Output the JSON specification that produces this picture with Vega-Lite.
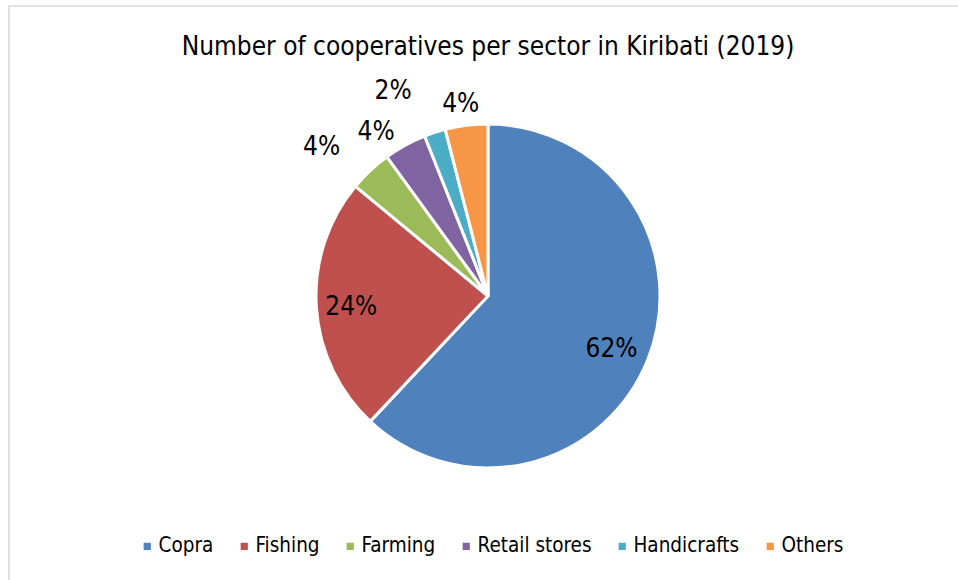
{
  "$schema": "https://vega.github.io/schema/vega-lite/v6.json",
  "width": 958,
  "height": 580,
  "autosize": {"type": "none"},
  "padding": {"left": 9, "top": 6, "right": 0, "bottom": 0},
  "background": "white",
  "view": {"stroke": "#d9d9d9", "strokeWidth": 1.5},
  "config": {
    "view": {"stroke": "#d9d9d9", "strokeWidth": 1.5},
    "font": "DejaVu Sans Condensed, DejaVu Sans"
  },
  "title": {
    "text": "Number of cooperatives per sector in Kiribati (2019)",
    "fontSize": 26,
    "fontWeight": "normal",
    "color": "#000000",
    "font": "DejaVu Sans Condensed, DejaVu Sans",
    "anchor": "middle",
    "offset": -54
  },
  "data": {
    "values": [
      {"sector": "Copra", "share": 0.62, "order": 1},
      {"sector": "Fishing", "share": 0.24, "order": 2},
      {"sector": "Farming", "share": 0.04, "order": 3},
      {"sector": "Retail stores", "share": 0.04, "order": 4},
      {"sector": "Handicrafts", "share": 0.02, "order": 5},
      {"sector": "Others", "share": 0.04, "order": 6}
    ]
  },
  "encoding": {
    "theta": {"field": "share", "type": "quantitative", "stack": true},
    "order": {"field": "order", "type": "quantitative"}
  },
  "layer": [
    {
      "mark": {"type": "arc", "outerRadius": 172, "stroke": "white", "strokeWidth": 3},
      "encoding": {
        "color": {
          "field": "sector",
          "type": "nominal",
          "sort": ["Copra", "Fishing", "Farming", "Retail stores", "Handicrafts", "Others"],
          "scale": {
            "domain": ["Copra", "Fishing", "Farming", "Retail stores", "Handicrafts", "Others"],
            "range": ["#4F81BD", "#C0504D", "#9BBB59", "#8064A2", "#4BACC6", "#F79646"]
          },
          "legend": {
            "orient": "none",
            "legendX": 128,
            "legendY": 530,
            "direction": "horizontal",
            "title": null,
            "symbolType": "square",
            "symbolSize": 52,
            "symbolStrokeWidth": 0,
            "labelFontSize": 20.5,
            "labelFont": "DejaVu Sans Condensed, DejaVu Sans",
            "labelColor": "#000000",
            "labelOffset": 1,
            "columnPadding": 20,
            "symbolOffset": 0
          }
        }
      }
    },
    {
      "mark": {"type": "text", "radius": 135, "dx": -2, "dy": 3, "fontSize": 26, "color": "#000000"},
      "encoding": {
        "text": {"field": "share", "type": "quantitative", "format": ".0%"},
        "opacity": {"condition": {"test": "datum.sector === 'Copra' || datum.sector === 'Fishing'", "value": 1}, "value": 0}
      }
    },
    {
      "mark": {"type": "text", "radius": 194, "dx": -3, "fontSize": 26, "color": "#000000"},
      "encoding": {
        "text": {"field": "share", "type": "quantitative", "format": ".0%"},
        "opacity": {"condition": {"test": "datum.sector === 'Others'", "value": 1}, "value": 0}
      }
    },
    {
      "mark": {"type": "text", "radius": 199, "dx": -16, "dy": 10, "fontSize": 26, "color": "#000000"},
      "encoding": {
        "text": {"field": "share", "type": "quantitative", "format": ".0%"},
        "opacity": {"condition": {"test": "datum.sector === 'Retail stores'", "value": 1}, "value": 0}
      }
    },
    {
      "mark": {"type": "text", "radius": 224, "dx": -13, "dy": 14, "fontSize": 26, "color": "#000000"},
      "encoding": {
        "text": {"field": "share", "type": "quantitative", "format": ".0%"},
        "opacity": {"condition": {"test": "datum.sector === 'Farming'", "value": 1}, "value": 0}
      }
    },
    {
      "mark": {"type": "text", "radius": 226, "dx": -25, "dy": 10, "fontSize": 26, "color": "#000000"},
      "encoding": {
        "text": {"field": "share", "type": "quantitative", "format": ".0%"},
        "opacity": {"condition": {"test": "datum.sector === 'Handicrafts'", "value": 1}, "value": 0}
      }
    }
  ]
}
